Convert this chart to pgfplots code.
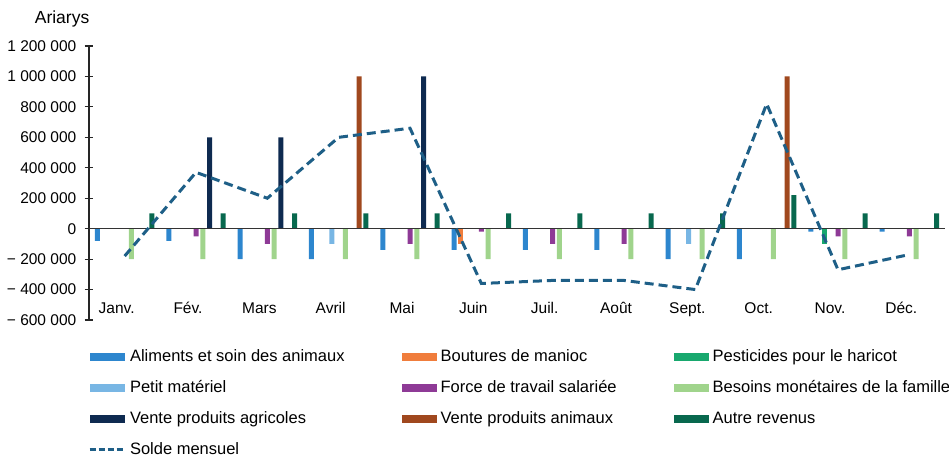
\documentclass[border=0pt]{standalone}
\usepackage{pgfplots}
\pgfplotsset{compat=1.18}
\usepackage{fontspec}
\setmainfont{Liberation Sans}
\definecolor{cA}{RGB}{45,134,206}
\definecolor{cB}{RGB}{240,125,60}
\definecolor{cP}{RGB}{24,168,110}
\definecolor{cPM}{RGB}{120,182,228}
\definecolor{cF}{RGB}{142,58,150}
\definecolor{cBe}{RGB}{160,212,140}
\definecolor{cVA}{RGB}{14,42,80}
\definecolor{cVN}{RGB}{160,72,30}
\definecolor{cAR}{RGB}{8,104,78}
\definecolor{cS}{RGB}{30,95,135}
\begin{document}
\begin{tikzpicture}[font=\fontsize{15.5}{18}\selectfont]
\useasboundingbox (0pt,0pt) rectangle (949pt,456pt);
\node[anchor=base east, font=\fontsize{17.5}{20}\selectfont, inner sep=0pt] at (89.5pt,432pt) {Ariarys};
\begin{axis}[
  at={(89pt,136pt)}, anchor=south west,
  scale only axis, width=856pt, height=274pt,
  xmin=-0.5, xmax=11.5, ymin=-600000, ymax=1200000,
  axis lines=left,
  axis line style={-, line width=1.2pt, color=black!85},
  x axis line style={draw=none},
  xtick={0,...,11},
  xticklabels={Janv.,Fév.,Mars,Avril,Mai,Juin,Juil.,Août,Sept.,Oct.,Nov.,Déc.},
  xtick style={draw=none},
  xticklabel style={anchor=base, inner sep=0pt, yshift=11pt, xshift=-8pt},
  ytick={-600000,-400000,-200000,0,200000,400000,600000,800000,1000000,1200000},
  yticklabels={{− 600 000},{− 400 000},{− 200 000},0,{200 000},{400 000},{600 000},{800 000},{1 000 000},{1 200 000}},
  ytick style={line width=1.2pt, color=black!85},
  tick align=center, major tick length=9pt,
  yticklabel style={anchor=east, inner sep=0pt, xshift=-8pt},
  scaled y ticks=false,
  clip=false,
  legend columns=3,
  legend cell align=left,
  legend style={
    at={(0,0)}, anchor=north west, xshift=-1pt, yshift=-29pt,
    draw=none, fill=none, inner sep=0pt, outer sep=0pt,
    font=\fontsize{16.5}{19}\selectfont,
    nodes={inner sep=0pt, text height=12pt, text depth=3.5pt},
    row sep=15.5pt,
    /tikz/every odd column/.append style={column sep=4pt},
    /tikz/every even column/.append style={column sep=57pt},
  },
]
\addplot[ybar, bar width=5pt, bar shift=-27.2pt, fill=cA, draw=none,
  legend image code/.code={\fill[cA] (0pt,-4pt) rectangle (35pt,4pt);}]
  coordinates {(0,-80000) (1,-80000) (2,-200000) (3,-200000) (4,-140000) (5,-140000) (6,-140000) (7,-140000) (8,-200000) (9,-200000) (10,-20000) (11,-20000)};
\addlegendentry{Aliments et soin des animaux}
\addplot[ybar, bar width=5pt, bar shift=-20.4pt, fill=cB, draw=none,
  legend image code/.code={\fill[cB] (0pt,-4pt) rectangle (35pt,4pt);}]
  coordinates {(5,-100000)};
\addlegendentry{Boutures de manioc}
\addplot[ybar, bar width=5pt, bar shift=-13.6pt, fill=cP, draw=none,
  legend image code/.code={\fill[cP] (0pt,-4pt) rectangle (35pt,4pt);}]
  coordinates {(10,-100000)};
\addlegendentry{Pesticides pour le haricot}
\addplot[ybar, bar width=5pt, bar shift=-6.8pt, fill=cPM, draw=none,
  legend image code/.code={\fill[cPM] (0pt,-4pt) rectangle (35pt,4pt);}]
  coordinates {(3,-100000) (8,-100000)};
\addlegendentry{Petit matériel}
\addplot[ybar, bar width=5pt, bar shift=0pt, fill=cF, draw=none,
  legend image code/.code={\fill[cF] (0pt,-4pt) rectangle (35pt,4pt);}]
  coordinates {(1,-50000) (2,-100000) (4,-100000) (5,-20000) (6,-100000) (7,-100000) (10,-50000) (11,-50000)};
\addlegendentry{Force de travail salariée}
\addplot[ybar, bar width=5pt, bar shift=6.8pt, fill=cBe, draw=none,
  legend image code/.code={\fill[cBe] (0pt,-4pt) rectangle (35pt,4pt);}]
  coordinates {(0,-200000) (1,-200000) (2,-200000) (3,-200000) (4,-200000) (5,-200000) (6,-200000) (7,-200000) (8,-200000) (9,-200000) (10,-200000) (11,-200000)};
\addlegendentry{Besoins monétaires de la famille}
\addplot[ybar, bar width=5pt, bar shift=13.6pt, fill=cVA, draw=none,
  legend image code/.code={\fill[cVA] (0pt,-4pt) rectangle (35pt,4pt);}]
  coordinates {(1,600000) (2,600000) (4,1000000)};
\addlegendentry{Vente produits agricoles}
\addplot[ybar, bar width=5pt, bar shift=20.4pt, fill=cVN, draw=none,
  legend image code/.code={\fill[cVN] (0pt,-4pt) rectangle (35pt,4pt);}]
  coordinates {(3,1000000) (9,1000000)};
\addlegendentry{Vente produits animaux}
\addplot[ybar, bar width=5pt, bar shift=27.2pt, fill=cAR, draw=none,
  legend image code/.code={\fill[cAR] (0pt,-4pt) rectangle (35pt,4pt);}]
  coordinates {(0,100000) (1,100000) (2,100000) (3,100000) (4,100000) (5,100000) (6,100000) (7,100000) (8,100000) (9,220000) (10,100000) (11,100000)};
\addlegendentry{Autre revenus}
\draw[line width=1.5pt, black!80] (axis cs:-0.5,0) -- (axis cs:11.5,0);
\addplot[sharp plot, no markers, line width=3pt, color=cS, dash pattern=on 9pt off 5pt,
  legend image code/.code={\draw[line width=3pt, cS, dash pattern=on 6pt off 3pt] (0pt,0pt) -- (35pt,0pt);}]
  coordinates {(0,-180000) (1,370000) (2,200000) (3,600000) (4,660000) (5,-360000) (6,-340000) (7,-340000) (8,-400000) (9,820000) (10,-270000) (11,-170000)};
\addlegendentry{Solde mensuel}
\end{axis}
\end{tikzpicture}
\end{document}
